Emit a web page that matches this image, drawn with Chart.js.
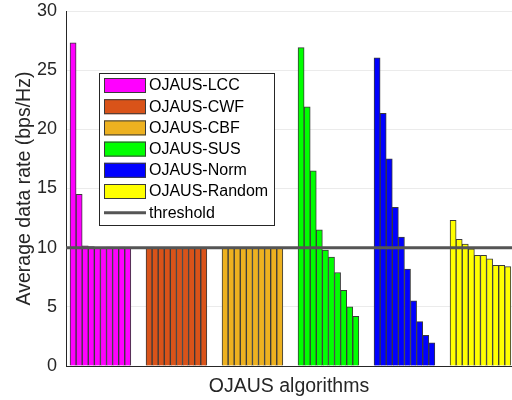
<!DOCTYPE html>
<html>
<head>
<meta charset="utf-8">
<script src="https://cdn.jsdelivr.net/npm/chart.js@4.4.1/dist/chart.umd.min.js"></script>
<style>
  html, body { margin: 0; padding: 0; background: #fff; }
  #wrap { width: 512px; height: 400px; position: relative; }
</style>
</head>
<body>
<div id="wrap"><canvas id="c" width="512" height="400"></canvas></div>
<script>
// Average data rate per user slot (10 slots) for each scheduling algorithm
const algorithms = ['OJAUS-LCC', 'OJAUS-CWF', 'OJAUS-CBF', 'OJAUS-SUS', 'OJAUS-Norm', 'OJAUS-Random'];
const lccRates    = [27.3, 14.5, 10.15, 10.1, 10.0, 10.02, 10.05, 10.0, 10.05, 10.0];
const cwfRates    = [9.98, 9.98, 9.98, 9.98, 9.98, 9.98, 9.98, 9.98, 9.98, 9.98];
const cbfRates    = [9.98, 9.98, 9.98, 9.98, 9.98, 9.98, 9.98, 9.98, 9.98, 9.98];
const susRates    = [26.9, 21.9, 16.5, 11.5, 9.8, 9.2, 7.9, 6.4, 5.0, 4.2];
const normRates   = [26.05, 21.35, 17.5, 13.4, 10.9, 8.2, 5.5, 3.75, 2.6, 1.95];
const randomRates = [12.3, 10.7, 10.3, 9.9, 9.35, 9.35, 9.05, 8.5, 8.5, 8.4];
const thresholdRate = 10;
const yTickValues = [0, 5, 10, 15, 20, 25, 30];

const seriesRates = [lccRates, cwfRates, cbfRates, susRates, normRates, randomRates];
const seriesColors = ['#ff00ff', '#d95319', '#edb120', '#00ff00', '#0000ff', '#ffff00'];

// Each algorithm sits at group position 1..6; its 10 bars share 0.8 of the unit.
const groupWidth = 0.8;
const xMin = 0.547, xMax = 6.415;

const FONT = '"Liberation Sans", Arial, Helvetica, sans-serif';
const TEXT = '#262626';

const barDatasets = seriesRates.map((rates, g) => {
  const step = groupWidth / rates.length;
  return {
    type: 'bar',
    label: algorithms[g],
    data: rates.map((v, i) => ({ x: g + 1 + (i - (rates.length - 1) / 2) * step, y: v })),
    backgroundColor: seriesColors[g],
    borderColor: '#3a3a3a',
    borderWidth: 1,
    grouped: false,
    barPercentage: 1,
    categoryPercentage: 1,
    order: 1
  };
});

const thresholdDataset = {
  type: 'line',
  label: 'threshold',
  data: [{ x: xMin, y: thresholdRate }, { x: xMax, y: thresholdRate }],
  borderColor: '#555555',
  borderWidth: 3,
  pointRadius: 0,
  fill: false,
  order: 0
};

// Boxed legend inside the plot area, drawn from the datasets
const legendBox = {
  id: 'legendBox',
  afterDatasetsDraw(chart) {
    const ctx = chart.ctx;
    const bx = 99.5, by = 73.5, bw = 175, bh = 152;
    ctx.save();
    ctx.fillStyle = '#ffffff';
    ctx.fillRect(bx, by, bw, bh);
    ctx.strokeStyle = TEXT;
    ctx.lineWidth = 1;
    ctx.strokeRect(bx, by, bw, bh);
    ctx.font = '16px ' + FONT;
    ctx.textBaseline = 'middle';
    ctx.textAlign = 'left';
    chart.data.datasets.forEach((ds, k) => {
      const cy = 85.5 + k * 21.2;
      if (ds.type === 'line') {
        ctx.strokeStyle = ds.borderColor;
        ctx.lineWidth = ds.borderWidth;
        ctx.beginPath();
        ctx.moveTo(104, cy);
        ctx.lineTo(146, cy);
        ctx.stroke();
      } else {
        ctx.fillStyle = ds.backgroundColor;
        ctx.fillRect(104, cy - 7.5, 42, 15);
        ctx.strokeStyle = '#3a3a3a';
        ctx.lineWidth = 1;
        ctx.strokeRect(104.5, cy - 7, 41, 14);
      }
      ctx.fillStyle = '#000';
      ctx.fillText(ds.label, 149, cy + 0.5);
    });
    ctx.restore();
  }
};

new Chart(document.getElementById('c'), {
  type: 'bar',
  data: { datasets: [...barDatasets, thresholdDataset] },
  options: {
    responsive: false,
    animation: false,
    layout: { padding: { top: 11, right: 0, bottom: 0, left: 0 } },
    plugins: { legend: { display: false }, tooltip: { enabled: false } },
    scales: {
      x: {
        type: 'linear',
        min: xMin,
        max: xMax,
        offset: false,
        grid: { display: false },
        border: { display: true, color: TEXT, width: 1 },
        ticks: { display: false },
        title: {
          display: true,
          text: 'OJAUS algorithms',
          color: TEXT,
          font: { family: FONT, size: 19.5 },
          padding: { top: 0, bottom: 2 }
        },
        afterFit: s => { s.height = 34; }
      },
      y: {
        min: 0,
        max: 30,
        afterBuildTicks: s => { s.ticks = yTickValues.map(v => ({ value: v })); },
        grid: { color: '#ebebeb', lineWidth: 1, drawTicks: false },
        border: { display: true, color: TEXT, width: 1 },
        ticks: { color: TEXT, font: { family: FONT, size: 18 }, padding: 9 },
        title: {
          display: true,
          text: 'Average data rate (bps/Hz)',
          color: TEXT,
          font: { family: FONT, size: 19.5 },
          padding: { top: 13, bottom: 0 }
        },
        afterFit: s => { s.width = 66; s.paddingTop = 0; s.paddingBottom = 0; }
      }
    }
  },
  plugins: [legendBox]
});
</script>
</body>
</html>
